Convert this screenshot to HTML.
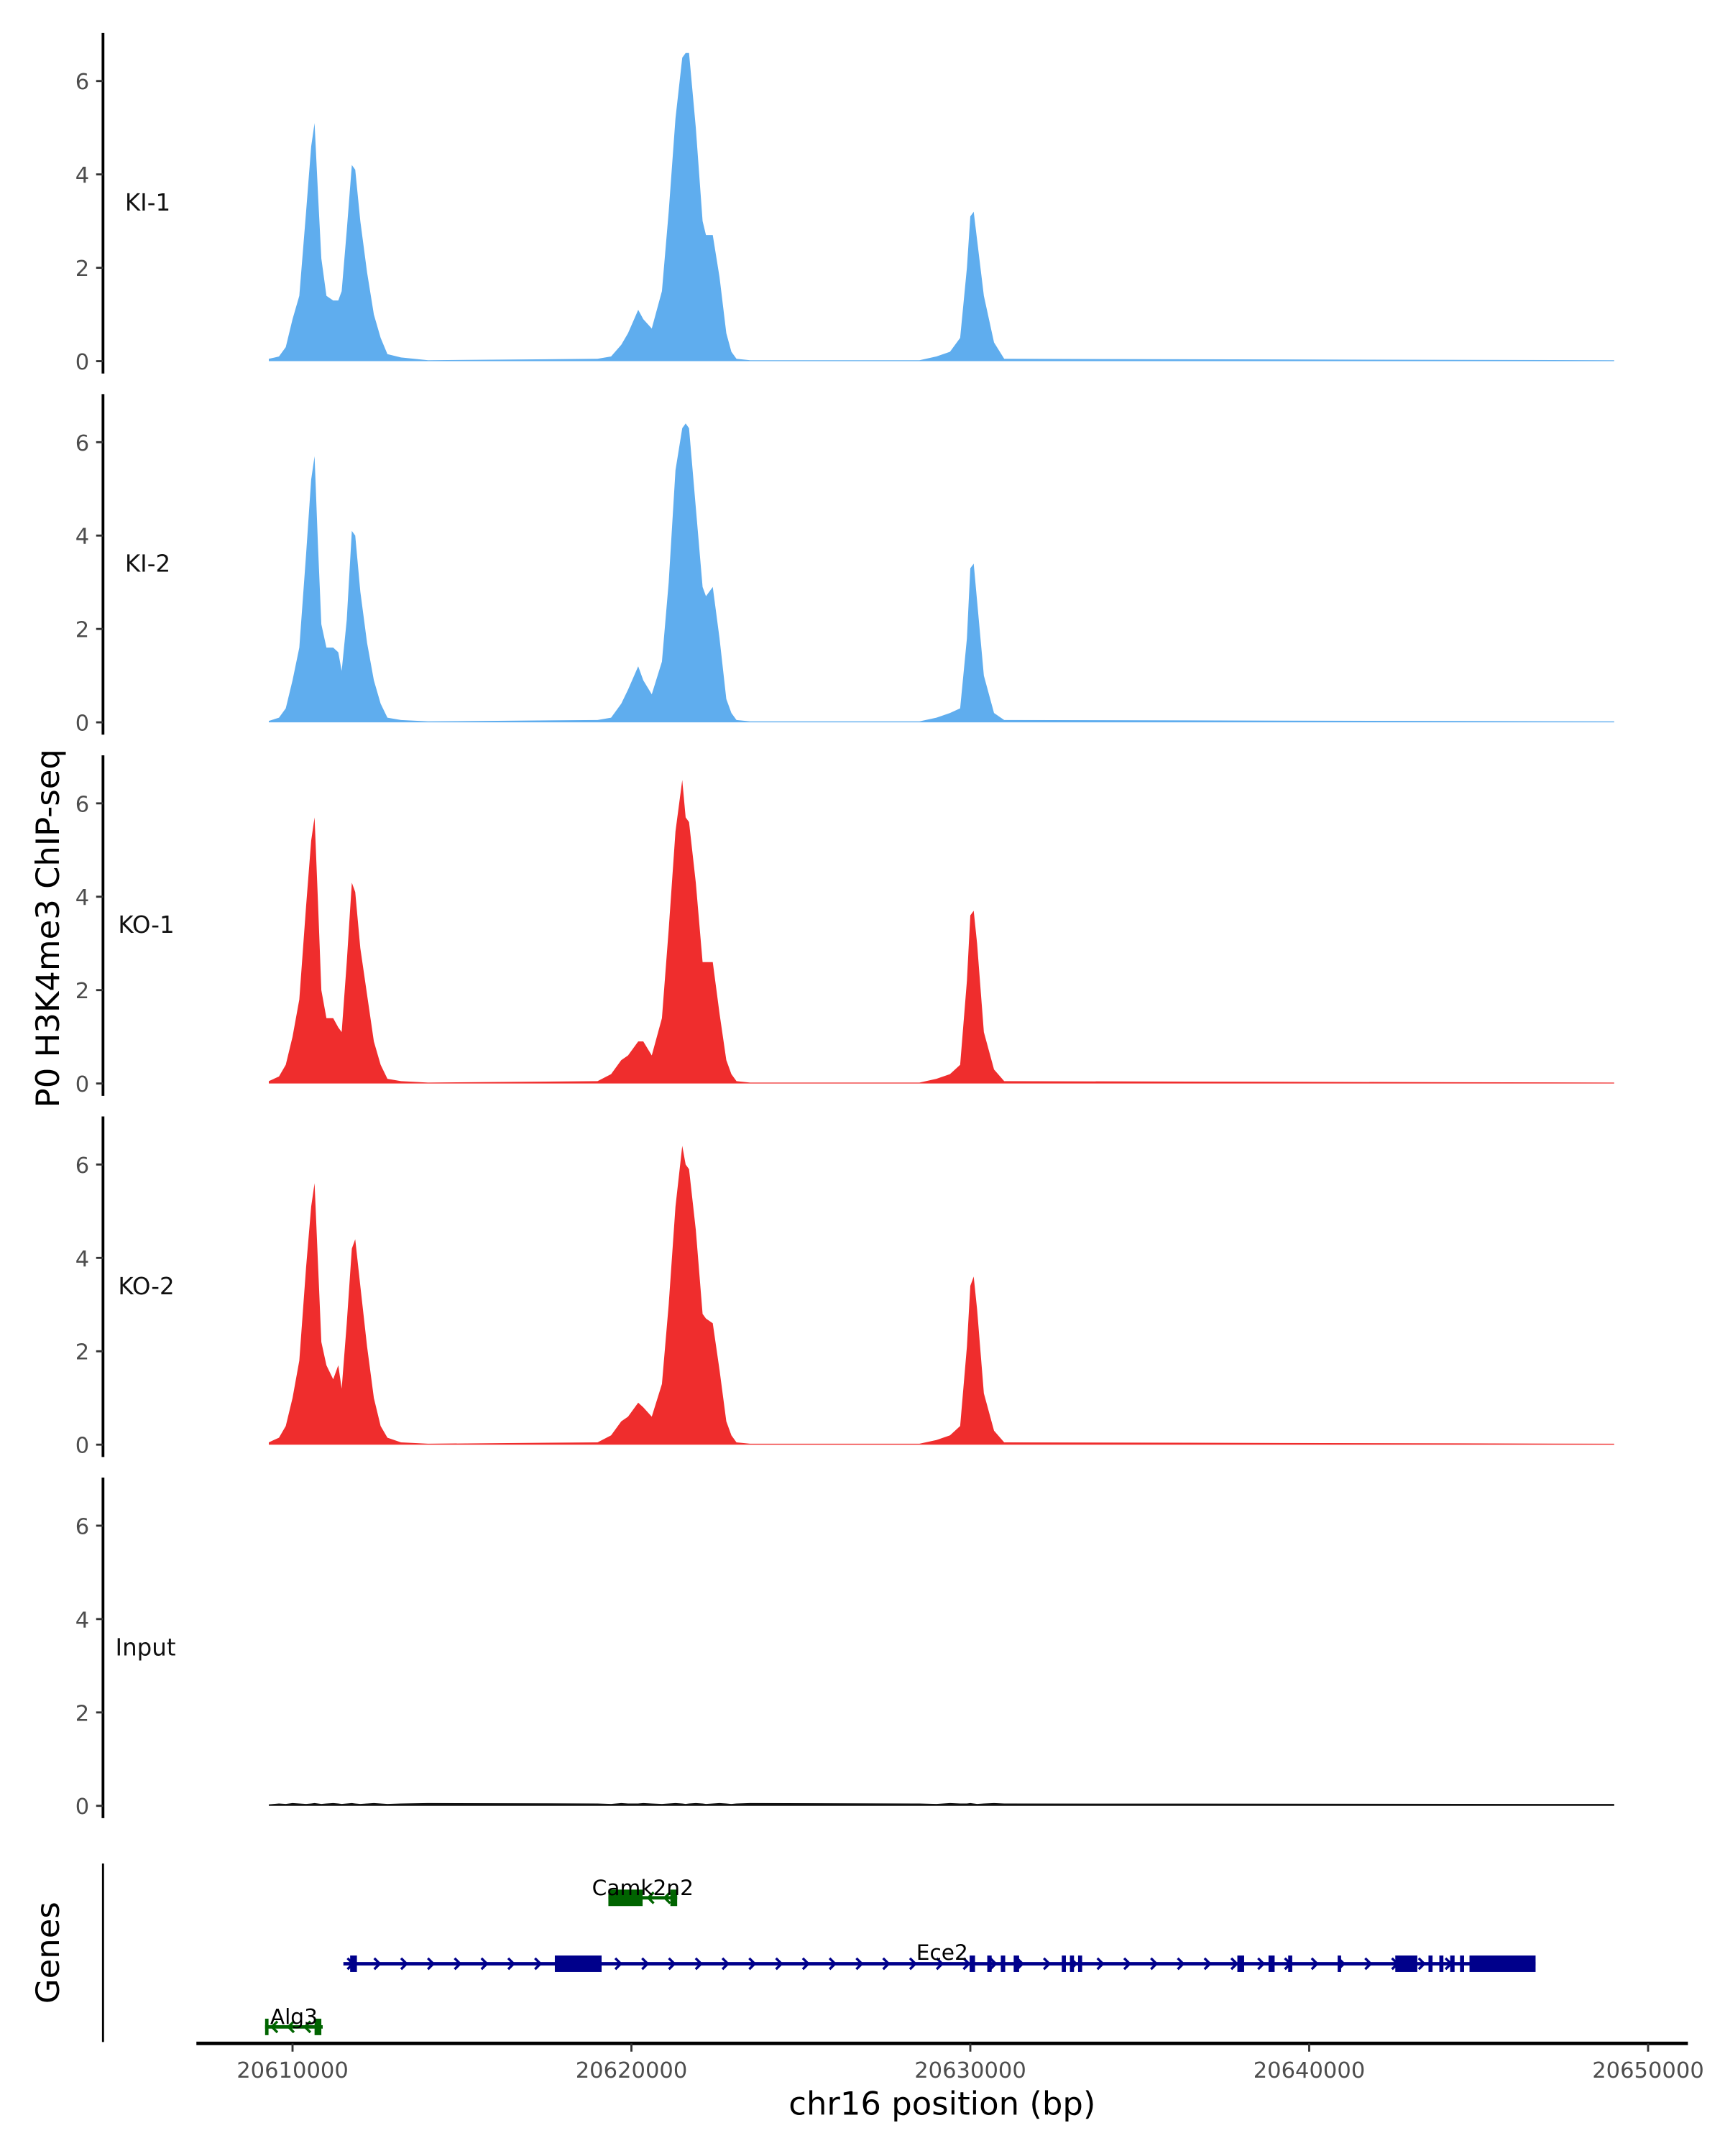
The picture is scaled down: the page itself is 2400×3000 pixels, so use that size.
<!DOCTYPE html>
<html><head><meta charset="utf-8"><style>
html,body{margin:0;padding:0;background:#fff}
svg{display:block}
text{font-family:"DejaVu Sans","Liberation Sans",sans-serif}
</style></head><body>
<svg id="chart" xmlns="http://www.w3.org/2000/svg" width="2400" height="3000" viewBox="0 0 1256 1570" preserveAspectRatio="none">
<g id="tracks"></g>
<g id="genes"></g>
<g id="axes"></g>
<text x="0" y="0" transform="translate(43,676) rotate(-90)" text-anchor="middle" font-size="23.5">P0 H3K4me3 ChIP-seq</text>
<text x="0" y="0" transform="translate(43,1422) rotate(-90)" text-anchor="middle" font-size="23.5">Genes</text>
<text x="686" y="1540" text-anchor="middle" font-size="23.5">chr16 position (bp)</text>
</svg>
<script>
// positions in kb offset from 20,600,000
const positions = [9.3,9.6,9.8,10.0,10.2,10.4,10.55,10.65,10.75,10.85,11.0,11.2,11.35,11.45,11.6,11.75,11.85,12.0,12.2,12.4,12.6,12.8,13.2,14,19.0,19.4,19.7,19.9,20.2,20.35,20.6,20.9,21.1,21.3,21.5,21.6,21.7,21.9,22.1,22.2,22.4,22.6,22.8,22.95,23.1,23.5,28.5,29.0,29.4,29.7,29.9,30.0,30.1,30.2,30.4,30.7,31.0,49.0];
const ki1 = [0.05,0.1,0.3,0.9,1.4,3.2,4.6,5.1,3.6,2.2,1.4,1.3,1.3,1.5,2.8,4.2,4.1,3.0,1.9,1.0,0.5,0.15,0.08,0.02,0.05,0.1,0.35,0.6,1.1,0.9,0.7,1.5,3.2,5.2,6.5,6.6,6.6,5.0,3.0,2.7,2.7,1.8,0.6,0.2,0.05,0.02,0.02,0.1,0.2,0.5,2.0,3.1,3.2,2.6,1.4,0.4,0.05,0.02];
const ki2 = [0.03,0.1,0.3,0.9,1.6,3.6,5.2,5.7,3.8,2.1,1.6,1.6,1.5,1.1,2.2,4.1,4.0,2.8,1.7,0.9,0.4,0.1,0.05,0.02,0.05,0.1,0.4,0.7,1.2,0.9,0.6,1.3,3.0,5.4,6.3,6.4,6.3,4.6,2.9,2.7,2.9,1.8,0.5,0.2,0.05,0.02,0.02,0.1,0.2,0.3,1.8,3.3,3.4,2.6,1.0,0.2,0.05,0.02];
const ko1 = [0.05,0.15,0.4,1.0,1.8,3.8,5.2,5.7,3.9,2.0,1.4,1.4,1.2,1.1,2.6,4.3,4.1,2.9,1.9,0.9,0.4,0.1,0.05,0.02,0.05,0.2,0.5,0.6,0.9,0.9,0.6,1.4,3.3,5.4,6.5,5.7,5.6,4.3,2.6,2.6,2.6,1.5,0.5,0.2,0.05,0.02,0.02,0.1,0.2,0.4,2.2,3.6,3.7,3.0,1.1,0.3,0.05,0.02];
const ko2 = [0.05,0.15,0.4,1.0,1.8,3.8,5.1,5.6,3.9,2.2,1.7,1.4,1.7,1.2,2.6,4.2,4.4,3.4,2.1,1.0,0.4,0.15,0.05,0.02,0.05,0.2,0.5,0.6,0.9,0.8,0.6,1.3,3.0,5.1,6.4,6.0,5.9,4.6,2.8,2.7,2.6,1.6,0.5,0.2,0.05,0.02,0.02,0.1,0.2,0.4,2.1,3.4,3.6,2.9,1.1,0.3,0.05,0.02];
const input = [0.03,0.05,0.04,0.06,0.05,0.04,0.05,0.06,0.05,0.04,0.05,0.06,0.05,0.04,0.05,0.06,0.05,0.04,0.05,0.06,0.05,0.04,0.05,0.06,0.05,0.04,0.06,0.05,0.05,0.06,0.05,0.04,0.05,0.06,0.05,0.04,0.05,0.06,0.05,0.04,0.05,0.06,0.05,0.04,0.05,0.06,0.05,0.04,0.06,0.05,0.05,0.06,0.05,0.04,0.05,0.06,0.05,0.04];
const sampleNames = ["KI-1","KI-2","KO-1","KO-2","Input"];
const sampleValues = [ki1,ki2,ko1,ko2,input];
const sampleColors = ["#5fadee","#5fadee","#ef2d2d","#ef2d2d","#111111"];
const yTicks = [0,2,4,6];
const xTicks = [20610000,20620000,20630000,20640000,20650000];
// genes: [start kb, end kb]
const geneNames = ["Camk2n2","Ece2","Alg3"];
const geneSpans = [[19.32,21.35],[11.5,46.68],[9.19,10.89]];
const geneStrands = [-1,1,-1];
const geneExons = [
  [[19.32,20.33],[21.15,21.35]],
  [[11.7,11.9],[17.74,19.12],[29.98,30.14],[30.5,30.63],[30.9,31.03],[31.28,31.44],[32.7,32.82],[32.94,33.06],[33.18,33.3],[37.88,38.08],[38.8,38.98],[39.38,39.5],[40.84,40.92],[42.54,43.19],[43.52,43.64],[43.84,43.96],[44.16,44.29],[44.45,44.57],[44.73,46.68]],
  [[9.19,9.27],[10.65,10.85]]
];
const geneRows = [0,1,2];

const NS="http://www.w3.org/2000/svg";
function mk(tag,attrs,parent){const e=document.createElementNS(NS,tag);for(const k in attrs)e.setAttribute(k,attrs[k]);parent.appendChild(e);return e;}
const xScale = kb => 213 + (kb-10)*24.675;
const xBp = bp => xScale((bp-20600000)/1000);
const base0 = 263, panelStep = 263, unit = 34;
const yScale = (panel,v) => base0 + panel*panelStep - v*unit;

const tracks=document.getElementById('tracks');
const axes=document.getElementById('axes');
const genesG=document.getElementById('genes');

sampleValues.forEach((vals,i)=>{
  let d='M'+xScale(positions[0])+','+yScale(i,0);
  vals.forEach((v,j)=>{d+=' L'+xScale(positions[j]).toFixed(2)+','+yScale(i,v).toFixed(2);});
  d+=' L'+xScale(positions[positions.length-1])+','+yScale(i,0)+' Z';
  const p=mk('path',{d:d,fill:sampleColors[i]},tracks);
  
  
  const top=base0+i*panelStep-239, bot=base0+i*panelStep+9;
  const ax=mk('line',{x1:75,x2:75,y1:top,y2:bot,stroke:'#000','stroke-width':2},axes);
  
  
  yTicks.forEach(t=>{
    const y=yScale(i,t);
    const tk=mk('line',{x1:70,x2:75,y1:y,y2:y,stroke:'#333','stroke-width':1.5},axes);
    
    
    const tl=mk('text',{x:65,y:y+6,'text-anchor':'end','font-size':16,fill:'#4d4d4d'},axes);
    
    
    tl.textContent=t;
  });
  const lab=mk('text',{x:i===4?84:(i>=2?86:91),y:yScale(i,3.4)+6,'font-size':17,fill:'#111'},axes);
  
  
  lab.textContent=sampleNames[i];
});

const gax=mk('line',{x1:75,x2:75,y1:1357,y2:1487,stroke:'#000','stroke-width':1.5},axes);


const xax=mk('line',{x1:143,x2:1229,y1:1488,y2:1488,stroke:'#000','stroke-width':2.5},axes);


xTicks.forEach(t=>{
  const x=xBp(t);
  const tk=mk('line',{x1:x,x2:x,y1:1488,y2:1494,stroke:'#333','stroke-width':1.5},axes);
  
  
  const tl=mk('text',{x:x,y:1513,'text-anchor':'middle','font-size':16,fill:'#4d4d4d'},axes);
  
  
  tl.textContent=t;
});

const rowY=[1382,1430,1476];
geneNames.forEach((g,i)=>{
  const y=rowY[geneRows[i]];
  const col = g==="Ece2" ? "#00008b" : "#006400";
  const grp=mk('g',{},genesG);
  
  
  const x1=xScale(geneSpans[i][0]), x2=xScale(geneSpans[i][1]);
  mk('line',{x1:x1,x2:x2,y1:y,y2:y,stroke:col,'stroke-width':2.5},grp);
  const s=geneStrands[i];
  for(let cx=x1+6;cx<x2-3;cx+=(g==="Ece2"?19.5:12)){
    mk('polyline',{points:(cx-3*s)+','+(y-4)+' '+(cx+1*s)+','+y+' '+(cx-3*s)+','+(y+4),fill:'none',stroke:col,'stroke-width':1.8},grp);
  }
  geneExons[i].forEach(e=>{
    const ex1=xScale(e[0]), ex2=xScale(e[1]);
    const r=mk('rect',{x:ex1,y:y-6,width:Math.max(ex2-ex1,2.5),height:12,fill:col},grp);
    
    
  });
  const lt=mk('text',{x:(g==="Ece2")?686:(x1+x2)/2,y:(g==="Ece2")?y-3:y-2,'text-anchor':'middle','font-size':15.5,fill:'#000'},grp);
  
  
  lt.textContent=g;
});
</script>
</body></html>
